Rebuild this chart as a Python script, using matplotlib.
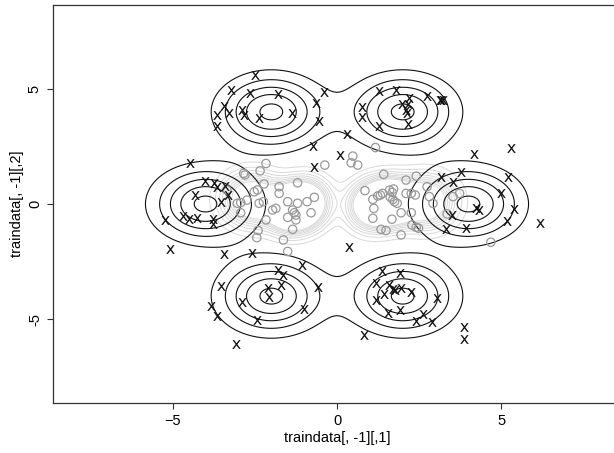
import numpy as np
import matplotlib
matplotlib.use("Agg")
import matplotlib.pyplot as plt

plt.rcParams['font.family'] = ['Liberation Sans', 'DejaVu Sans']

# centros de las gaussianas de la clase "x" (sigma = 1)
x_centers = [(-2, 4), (2, 4), (-4, 0), (4, 0), (-2, -4), (2, -4)]
x_levels = [0.005, 0.01, 0.015, 0.02, 0.025]

# aproximación de la densidad de la clase "o" (centro, sx, sy, peso)
o_centers = [(-1.4, -0.2), (-2.6, 0.2), (-0.9, 0.1), (1.6, 0.1), (2.7, 0.1), (1.0, -0.1)]
o_sx = [0.45, 0.55, 0.45, 0.45, 0.55, 0.45]
o_sy = [0.6, 0.7, 0.65, 0.6, 0.7, 0.65]
o_w = [0.35, 0.3, 0.2, 0.35, 0.3, 0.2]
o_levels = [0.005, 0.01, 0.015, 0.02, 0.025, 0.03, 0.035, 0.04]

# puntos clase x
px_x = [-2.5, -3.21, -2.65, -1.81, -0.41, -0.64, -3.45, -3.28, -3.66, -2.88,
        -2.84, -2.36, -1.37, -0.54, -3.66, -0.74, 0.1, 0.3, -0.69,
        1.29, 1.78, 2.2, 2.74, 3.12, 3.17, 3.22, 0.75, 0.75, 1.97, 2.15,
        2.1, 2.13, 1.27, 2.17, 4.17, 5.3,
        3.15, 3.76, 3.53, 5.2, 4.98, 5.38, 4.24, 4.31, 5.17, 6.17, 3.51,
        3.32, 3.93, 0.38,
        -4.47, -4.01, -3.74, -3.66, -3.41, -3.31, -4.32, -3.54, -5.23, -4.7,
        -4.5, -4.27, -3.76, -3.78, -5.08, -3.45, -2.59,
        -1.05, -1.81, -1.63, -3.54, -2.11, -1.71, -2.06, -0.57, -3.82, -3.64,
        -2.9, -1.0, -2.44, -3.08,
        1.36, 1.92, 1.19, 1.58, 1.7, 1.75, 1.95, 2.26, 1.42, 1.19, 3.04,
        1.55, 1.92, 2.39, 2.63, 2.9, 0.81, 3.85, 3.85]
py_x = [5.58, 4.97, 4.83, 4.79, 4.86, 4.39, 4.24, 3.95, 3.85, 4.1,
        3.85, 3.74, 3.95, 3.61, 3.38, 2.51, 2.12, 3.06, 1.59,
        4.89, 4.94, 4.62, 4.68, 4.5, 4.5, 4.5, 4.19, 3.78, 4.33, 4.36,
        4.07, 3.95, 3.39, 3.49, 2.15, 2.41,
        1.16, 1.4, 0.97, 1.16, 0.46, -0.22, -0.19, -0.26, -0.72, -0.81, -0.48,
        -1.1, -1.05, -1.85,
        1.76, 1.01, 0.92, 0.72, 0.78, 0.39, 0.39, 0.1, -0.69, -0.52,
        -0.65, -0.59, -0.65, -0.88, -1.95, -2.18, -2.13,
        -2.67, -2.86, -3.07, -3.54, -3.65, -3.51, -4.04, -3.62, -4.42, -4.88,
        -4.26, -4.55, -5.05, -6.06,
        -2.93, -3.0, -3.41, -3.51, -3.69, -3.75, -3.65, -3.82, -3.91, -4.16, -4.08,
        -4.73, -4.59, -5.06, -4.76, -5.12, -5.67, -5.35, -5.86]

# puntos clase o
px_o = [-2.16, -2.34, -2.84, -2.8, -1.2, -0.37, -1.76, -1.76, -2.22, -2.52,
        -2.42, -3.35, -3.03, -2.93, -2.74, -2.37, -2.24, -2.93, -1.96, -1.86,
        -1.5, -1.2, -0.91, -0.69, -1.35, -1.3, -1.25, -1.5, -1.25, -0.79,
        -2.16, -2.4, -2.44, -1.35, -1.63, -1.5,
        1.17, 0.48, 0.43, 0.63, 1.42, 0.85, 1.09, 1.12, 1.24, 1.32, 1.39,
        1.6, 1.68, 1.72, 1.62, 1.7, 2.1, 2.41, 2.1, 2.26, 2.38, 2.74, 2.81,
        2.92, 3.53, 3.73, 1.95, 2.26, 1.67, 1.09, 1.34, 1.49, 2.28, 2.41,
        2.48, 1.95, 3.35, 4.68, 1.75, 1.83]
py_o = [1.76, 1.44, 1.33, 1.26, 0.92, 1.69, 0.75, 0.46, 0.87, 0.53,
        0.61, 0.61, 0.03, 0.06, 0.17, 0.03, 0.1, -0.38, -0.26, -0.19,
        0.1, 0.03, 0.1, 0.29, -0.26, -0.38, -0.48, -0.58, -0.69, -0.38,
        -0.69, -1.15, -1.46, -1.1, -1.56, -2.06,
        2.45, 2.08, 1.79, 1.69, 1.29, 0.58, 0.2, -0.19, 0.35, 0.39, 0.46,
        0.6, 0.5, 0.65, 0.3, 0.2, 1.04, 1.21, 0.46, 0.46, 0.39, 0.75, 0.32,
        0.03, 0.32, 0.46, -0.38, -0.38, -0.66, -0.62, -1.1, -1.15, -0.91, -1.01,
        -1.05, -1.34, -0.43, -1.66, 0.1, 0.03]


def gauss2d(X, Y, cx, cy, sx, sy):
    return np.exp(-0.5 * (((X - cx) / sx) ** 2 + ((Y - cy) / sy) ** 2)) / (2 * np.pi * sx * sy)


g = np.linspace(-8, 8, 401)
GX, GY = np.meshgrid(g, g)

dens_x = sum(gauss2d(GX, GY, cx, cy, 1.0, 1.0) for cx, cy in x_centers) / len(x_centers)
dens_o = sum(w * gauss2d(GX, GY, c[0], c[1], sx, sy)
             for c, sx, sy, w in zip(o_centers, o_sx, o_sy, o_w)) / sum(o_w)

fig = plt.figure(figsize=(6.14, 4.53), dpi=100)
ax = fig.add_axes([53 / 614, 1 - 403 / 453, 568 / 614, 398 / 453])

ax.contour(GX, GY, dens_o, levels=o_levels, colors='#d8d8d8', linewidths=0.7)
ax.contour(GX, GY, dens_x, levels=x_levels, colors='#111111', linewidths=0.8)

ax.scatter(px_o, py_o, s=36, facecolors='none', edgecolors='#999999', linewidths=0.9, zorder=3)
ax.scatter(px_x, py_x, s=40, marker='$\\mathsf{x}$', color='#111111', linewidths=0, zorder=4)

ax.set_xlim(-8.64, 8.64)
ax.set_ylim(-8.64, 8.64)
ax.set_xticks([-5, 0, 5])
ax.set_yticks([-5, 0, 5])
ax.set_yticklabels(['-5', '0', '5'], rotation=90, va='center')
ax.tick_params(labelsize=10.5, length=4, width=0.8, color='#333333', pad=4)
for sp in ax.spines.values():
    sp.set_linewidth(0.9)
    sp.set_color('#333333')
ax.spines['right'].set_visible(False)

ax.set_xlabel('traindata[, -1][,1]', fontsize=10.5, labelpad=2)
ax.set_ylabel('traindata[, -1][,2]', fontsize=10.5, labelpad=3)

fig.savefig('out.png', dpi=100)
